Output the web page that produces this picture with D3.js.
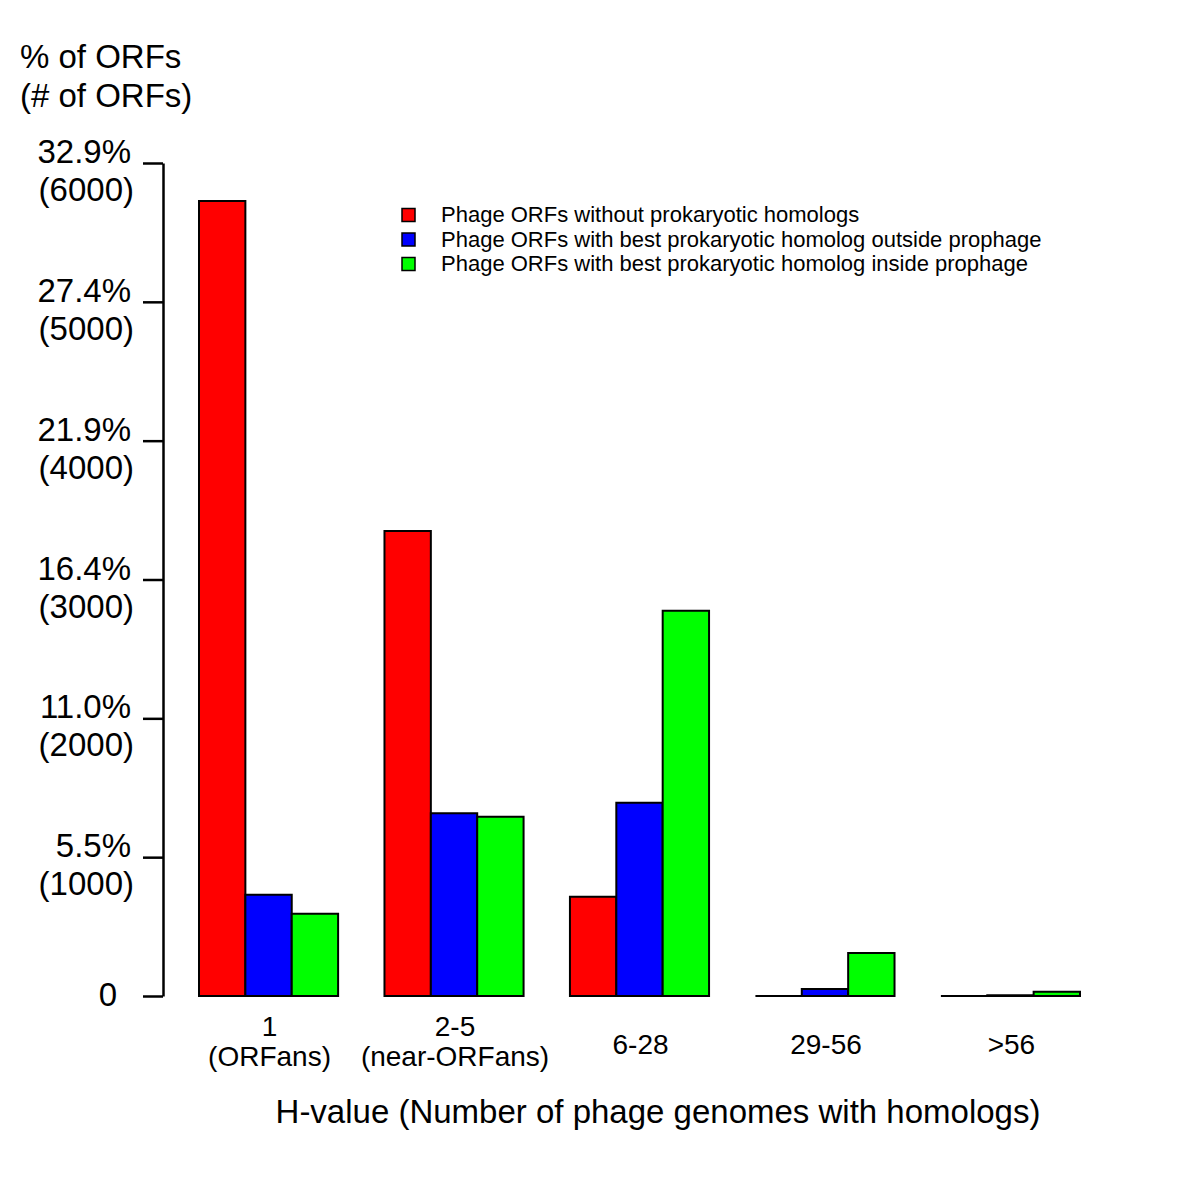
<!DOCTYPE html>
<html>
<head>
<meta charset="utf-8">
<script src="https://cdn.jsdelivr.net/npm/d3@7"></script>
<style>
  body { margin: 0; background: #fff; }
  text { font-family: "Liberation Sans", Arial, sans-serif; fill: #000; }
</style>
</head>
<body>
<div id="chart"></div>
<script>
// data
groups = ["1", "2-5", "6-28", "29-56", ">56"];
groupLabels = [["1", "(ORFans)"], ["2-5", "(near-ORFans)"], ["6-28"], ["29-56"], [">56"]];
seriesNames = [
  "Phage ORFs without prokaryotic homologs",
  "Phage ORFs with best prokaryotic homolog outside prophage",
  "Phage ORFs with best prokaryotic homolog inside prophage"
];
seriesColours = ["#ff0000", "#0000ff", "#00ff00"];
noHomolog = [5726, 3349, 715, 0, 0];
outsideProphage = [730, 1316, 1392, 50, 5];
insideProphage = [593, 1292, 2775, 310, 30];
tickCounts = [0, 1000, 2000, 3000, 4000, 5000, 6000];
tickPercents = ["0", "5.5%", "11.0%", "16.4%", "21.9%", "27.4%", "32.9%"];
yTitle = ["% of ORFs", "(# of ORFs)"];
xTitle = "H-value (Number of phage genomes with homologs)";

seriesValues = [noHomolog, outsideProphage, insideProphage];

width = 1200;
height = 1200;

svg = d3.select("#chart").append("svg")
    .attr("width", width)
    .attr("height", height);

x = d3.scaleBand()
    .domain(groups)
    .range([199, 1080])
    .paddingInner(0.25);
xInner = d3.scaleBand()
    .domain(d3.range(seriesNames.length))
    .range([0, x.bandwidth()]);
y = d3.scaleLinear()
    .domain([0, 6000])
    .range([996, 163]);

// bars (paths so that zero-height bars still show as a line)
bars = [];
groups.forEach((g, gi) => {
    seriesValues.forEach((vals, si) => {
        bars.push({group: g, series: si, value: vals[gi]});
    });
});
svg.append("g").selectAll("path")
    .data(bars).enter()
    .append("path")
    .attr("d", (d) => {
        x0 = x(d.group) + xInner(d.series);
        x1 = x0 + xInner.bandwidth();
        return "M" + x0 + "," + y(0) + "V" + y(d.value) + "H" + x1 + "V" + y(0) + "Z";
    })
    .attr("fill", (d) => seriesColours[d.series])
    .attr("stroke", "#000")
    .attr("stroke-width", 2);

// y axis
yAxis = svg.append("g")
    .attr("transform", "translate(163,0)")
    .call(d3.axisLeft(y).tickValues(tickCounts).tickSize(20).tickSizeOuter(0).tickFormat(""));
yAxis.selectAll("path, line").attr("stroke", "#000").attr("stroke-width", 2.5);

tickLabels = svg.append("g").selectAll("g")
    .data(tickCounts).enter()
    .append("g");
tickLabels.append("text")
    .attr("x", (d) => d == 0 ? 117 : 131)
    .attr("y", (d) => d == 0 ? y(d) + 10 : y(d))
    .attr("text-anchor", "end")
    .style("font-size", "33px")
    .text((d, i) => tickPercents[i]);
tickLabels.filter((d) => d != 0).append("text")
    .attr("x", 134)
    .attr("y", (d) => y(d) + 38)
    .attr("text-anchor", "end")
    .style("font-size", "33px")
    .text((d) => "(" + d + ")");

// y title
svg.append("g").selectAll("text")
    .data(yTitle).enter()
    .append("text")
    .attr("x", 20)
    .attr("y", (d, i) => 68 + i * 39)
    .style("font-size", "33px")
    .text((d) => d);

// x group labels
xl = svg.append("g").selectAll("g")
    .data(groups).enter()
    .append("g")
    .attr("transform", (d) => "translate(" + (x(d) + x.bandwidth() / 2 + 1) + ",0)");
xl.selectAll("text")
    .data((d, i) => groupLabels[i].map((t) => ({t: t, n: groupLabels[i].length})))
    .enter()
    .append("text")
    .attr("y", (d, i) => d.n == 1 ? 1054 : 1036 + i * 30)
    .attr("text-anchor", "middle")
    .style("font-size", "28px")
    .text((d) => d.t);

// x title
svg.append("text")
    .attr("x", 658)
    .attr("y", 1123)
    .attr("text-anchor", "middle")
    .style("font-size", "33px")
    .text(xTitle);

// legend
legend = svg.append("g").selectAll("g")
    .data(seriesNames).enter()
    .append("g")
    .attr("transform", (d, i) => "translate(0," + (215 + i * 24.5) + ")");
legend.append("rect")
    .attr("x", 402)
    .attr("y", -6.5)
    .attr("width", 13)
    .attr("height", 13)
    .attr("fill", (d, i) => seriesColours[i])
    .attr("stroke", "#000")
    .attr("stroke-width", 1.5);
legend.append("text")
    .attr("x", 441)
    .attr("y", 7)
    .style("font-size", "22px")
    .text((d) => d);
</script>
</body>
</html>
